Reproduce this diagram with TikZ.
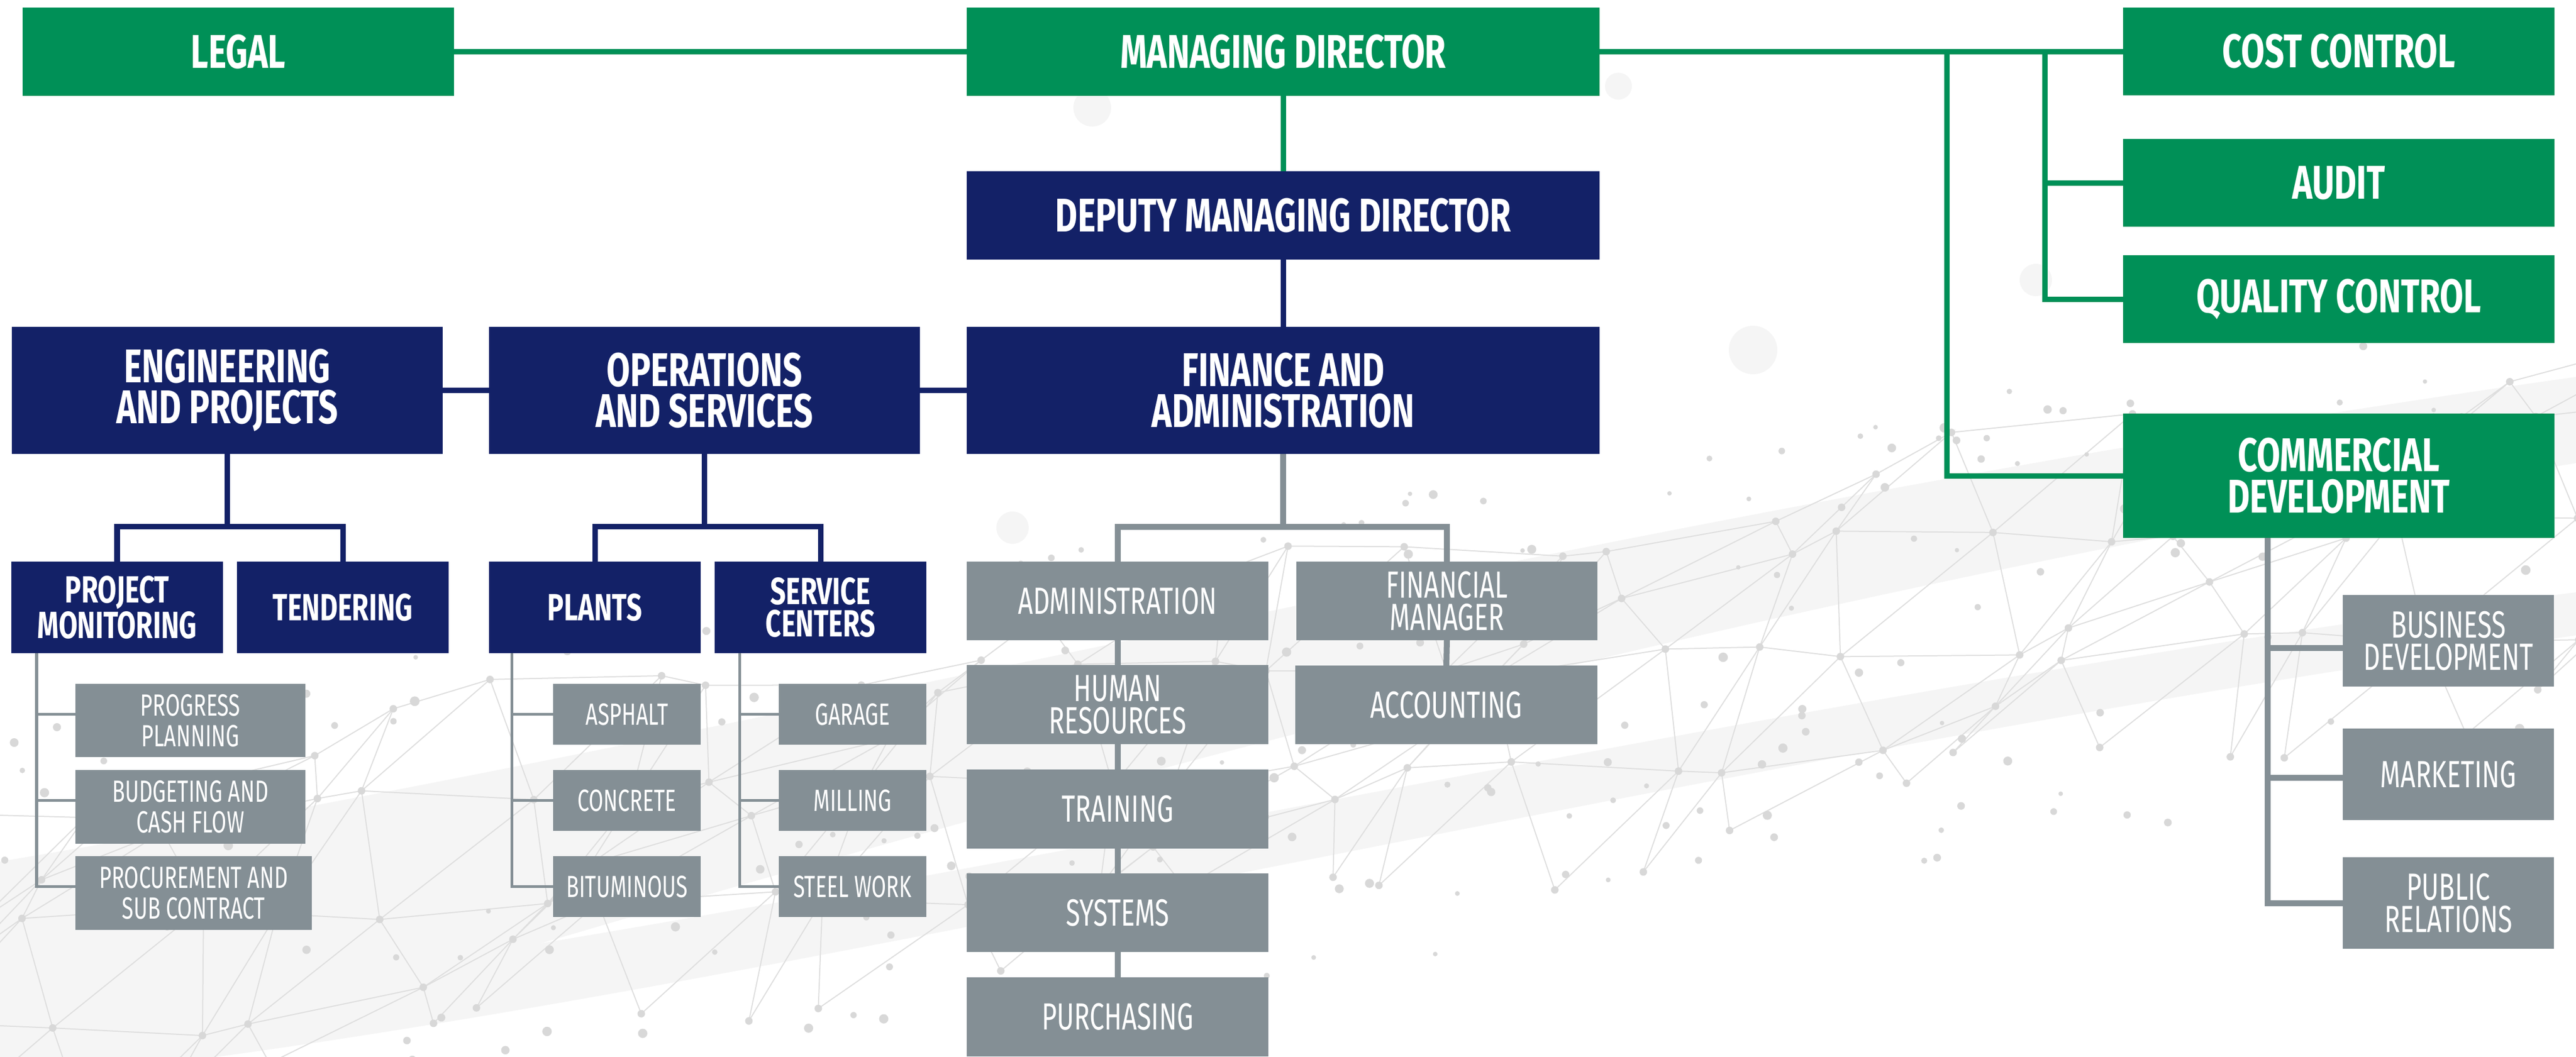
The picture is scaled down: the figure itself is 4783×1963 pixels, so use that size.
\documentclass[tikz,border=0pt]{standalone}
\usepackage{fontspec}
\setmainfont{Fira Sans}[FakeStretch=0.72]
\newfontfamily\grayfam{Fira Sans}[FakeStretch=0.69]
\definecolor{cgreen}{HTML}{009057}
\definecolor{cnavy}{HTML}{132167}
\definecolor{cgray}{HTML}{848F95}
\definecolor{meshc}{HTML}{DEDEDE}
\definecolor{dotc}{HTML}{D8D8D8}
\definecolor{bandc}{HTML}{F5F5F5}
\newcommand{\fbig}{\bfseries\fontsize{25pt}{21.7pt}\selectfont}
\newcommand{\fnavysm}{\bfseries\fontsize{20pt}{17pt}\selectfont}
\newcommand{\fgraymid}{\grayfam\fontsize{20pt}{17pt}\selectfont}
\newcommand{\fgraysm}{\grayfam\fontsize{16.2pt}{16.2pt}\selectfont}
\newcommand{\bx}[7]{\node[#2, minimum width={(#5-#3)*0.01cm}, minimum height={(#6-#4)*0.01cm}] (#1) at ({(#3+#5)/2},{(#4+#6)/2}) {#7};}
\begin{document}
\begin{tikzpicture}[x=0.01cm,y=-0.01cm,
  box/.style={rectangle, inner sep=0pt, outer sep=0pt, align=center, text=white},
  gbox/.style={box, fill=cgreen, font=\fbig},
  nbox/.style={box, fill=cnavy, font=\fbig},
  nsbox/.style={box, fill=cnavy, font=\fnavysm},
  grbox/.style={box, fill=cgray, font=\fgraymid},
  grsbox/.style={box, fill=cgray, font=\fgraysm},
  gline/.style={draw=cgreen, line width=0.1cm},
  nline/.style={draw=cnavy, line width=0.1cm},
  grthick/.style={draw=cgray, line width=0.11cm},
  grthin/.style={draw=cgray, line width=0.05cm},
  meshline/.style={draw=meshc, line width=0.02cm},
  declare function={bandy(\x)=1800-0.17*\x;
    px(\a,\b)=\a*210-100+70*sin(\a*137+\b*71);
    py(\a,\b)=bandy(\a*210)+(\b-2)*150+60*sin(\a*53+\b*97+11);}
]
\useasboundingbox (0,0) rectangle (4783,1963);
\fill[white] (0,0) rectangle (4783,1963);
% ---------- decorative background ----------
\begin{scope}
\clip (0,0) rectangle (4783,1963);
\fill[bandc] (0,1963) -- (0,1600) .. controls (1500,1350) and (3000,950) .. (4783,700) -- (4783,860) .. controls (3000,1150) and (1500,1600) .. (300,1963) -- cycle;
\fill[bandc] (0,1900) .. controls (1600,1700) and (3200,1300) .. (4783,1100) -- (4783,1180) .. controls (3200,1400) and (1600,1800) .. (400,1963) -- (0,1963) -- cycle;
\foreach \i in {0,...,23}{\foreach \j in {0,...,3}{
  \draw[meshline] ({px(\i,\j)},{py(\i,\j)}) -- ({px(\i+1,\j)},{py(\i+1,\j)}) -- ({px(\i,\j+1)},{py(\i,\j+1)}) -- cycle;
}}
\foreach \i in {0,...,24}{\foreach \j in {0,...,4}{
  \fill[dotc] ({px(\i,\j)},{py(\i,\j)}) circle (7);
}}
\pgfmathsetseed{3}
\foreach \k in {1,...,240}{
  \pgfmathsetmacro\rx{rnd*4783}
  \pgfmathsetmacro\ry{bandy(\rx)+(rnd-0.5)*900}
  \pgfmathsetmacro\rr{4+5*rnd}
  \fill[dotc] (\rx,\ry) circle (\rr);
}
\fill[bandc] (2028,200) circle (35);
\fill[bandc] (3005,160) circle (25);
\fill[bandc] (3255,650) circle (45);
\fill[bandc] (3780,520) circle (30);
\fill[bandc] (1880,980) circle (30);
\end{scope}
% ---------- top level (green) ----------
\bx{legal}{gbox}{42}{14}{843}{178}{LEGAL}
\bx{md}{gbox}{1795}{14}{2970}{178}{MANAGING DIRECTOR}
\bx{cost}{gbox}{3942}{14}{4743}{177}{COST CONTROL}
\bx{audit}{gbox}{3942}{258}{4743}{421}{AUDIT}
\bx{qc}{gbox}{3942}{474}{4743}{637}{QUALITY CONTROL}
\bx{comm}{gbox}{3942}{768}{4743}{999}{COMMERCIAL\\DEVELOPMENT}
% ---------- navy ----------
\bx{dmd}{nbox}{1795}{318}{2970}{482}{DEPUTY MANAGING DIRECTOR}
\bx{eng}{nbox}{22}{607}{822}{843}{ENGINEERING\\AND PROJECTS}
\bx{ops}{nbox}{908}{607}{1708}{843}{OPERATIONS\\AND SERVICES}
\bx{fin}{nbox}{1795}{607}{2970}{843}{FINANCE AND\\ADMINISTRATION}
\bx{pm}{nsbox}{21}{1043}{414}{1213}{PROJECT\\MONITORING}
\bx{tend}{nsbox}{440}{1043}{833}{1213}{TENDERING}
\bx{plants}{nsbox}{908}{1043}{1301}{1213}{PLANTS}
\bx{sc}{nsbox}{1327}{1043}{1720}{1213}{SERVICE\\CENTERS}
% ---------- gray ----------
\bx{prog}{grsbox}{140}{1270}{567}{1406}{PROGRESS\\PLANNING}
\bx{budg}{grsbox}{140}{1430}{567}{1567}{BUDGETING AND\\CASH FLOW}
\bx{proc}{grsbox}{140}{1590}{579}{1727}{PROCUREMENT AND\\SUB CONTRACT}
\bx{asph}{grsbox}{1027}{1270}{1301}{1383}{ASPHALT}
\bx{conc}{grsbox}{1027}{1430}{1301}{1543}{CONCRETE}
\bx{bitu}{grsbox}{1027}{1590}{1301}{1703}{BITUMINOUS}
\bx{gara}{grsbox}{1446}{1270}{1720}{1383}{GARAGE}
\bx{mill}{grsbox}{1446}{1430}{1720}{1543}{MILLING}
\bx{steel}{grsbox}{1446}{1590}{1720}{1703}{STEEL WORK}
\bx{admin}{grbox}{1795}{1043}{2355}{1189}{ADMINISTRATION}
\bx{hr}{grbox}{1795}{1235}{2355}{1382}{HUMAN\\RESOURCES}
\bx{train}{grbox}{1795}{1429}{2355}{1576}{TRAINING}
\bx{sys}{grbox}{1795}{1622}{2355}{1768}{SYSTEMS}
\bx{purch}{grbox}{1795}{1815}{2355}{1962}{PURCHASING}
\bx{fm}{grbox}{2407}{1043}{2966}{1189}{FINANCIAL\\MANAGER}
\bx{acct}{grbox}{2405}{1236}{2966}{1382}{ACCOUNTING}
\bx{biz}{grbox}{4350}{1105}{4742}{1275}{BUSINESS\\DEVELOPMENT}
\bx{mkt}{grbox}{4350}{1353}{4742}{1523}{MARKETING}
\bx{pr}{grbox}{4350}{1592}{4742}{1762}{PUBLIC\\RELATIONS}
% ---------- helper coordinates ----------
\coordinate (busY) at (0,978);
\coordinate (tapA) at (3615,0);
\coordinate (tapB) at (3797,0);
\coordinate (tapC) at (4210,0);
\coordinate (tapPM) at (68,0);
\coordinate (tapPL) at (950,0);
\coordinate (tapSC) at (1373,0);
\coordinate (bizY) at (0,1203);
\coordinate (mktY) at (0,1444);
% ---------- green connectors ----------
\draw[gline] (legal.east) -- (md.west);
\draw[gline] (md.south) -- (dmd.north);
\draw[gline] (md.east) -- (cost.west |- md.east);
\draw[gline] (tapA |- md.east) -- (tapA |- comm.west) -- (comm.west);
\draw[gline] (tapB |- md.east) -- (tapB |- qc.west) -- (qc.west);
\draw[gline] (tapB |- audit.west) -- (audit.west);
% ---------- navy connectors ----------
\draw[nline] (dmd.south) -- (fin.north);
\draw[nline] (eng.east) -- (ops.west);
\draw[nline] (ops.east) -- (fin.west);
\draw[nline] (eng.south) -- (eng.south |- busY);
\draw[nline] (pm.north) -- (pm.north |- busY) -- (tend.north |- busY) -- (tend.north);
\draw[nline] (ops.south) -- (ops.south |- busY);
\draw[nline] (plants.north) -- (plants.north |- busY) -- (sc.north |- busY) -- (sc.north);
% ---------- gray connectors ----------
\draw[grthick] (fin.south) -- (fin.south |- busY);
\draw[grthick] (admin.north) -- (admin.north |- busY) -- (fm.north |- busY) -- (fm.north);
\draw[grthick] (admin.south) -- (hr.north);
\draw[grthick] (hr.south) -- (train.north);
\draw[grthick] (train.south) -- (sys.north);
\draw[grthick] (sys.south) -- (purch.north);
\draw[grthick] (fm.south) -- (acct.north);
\draw[grthick] (tapC |- comm.south) -- (tapC |- pr.west) -- (pr.west);
\draw[grthick] (tapC |- bizY) -- (biz.west |- bizY);
\draw[grthick] (tapC |- mktY) -- (mkt.west |- mktY);
\draw[grthin] (tapPM |- pm.south) -- (tapPM |- bitu.west) -- (proc.west |- bitu.west);
\draw[grthin] (tapPM |- asph.west) -- (prog.west |- asph.west);
\draw[grthin] (tapPM |- conc.west) -- (budg.west |- conc.west);
\draw[grthin] (tapPL |- plants.south) -- (tapPL |- bitu.west) -- (bitu.west);
\draw[grthin] (tapPL |- asph.west) -- (asph.west);
\draw[grthin] (tapPL |- conc.west) -- (conc.west);
\draw[grthin] (tapSC |- sc.south) -- (tapSC |- steel.west) -- (steel.west);
\draw[grthin] (tapSC |- gara.west) -- (gara.west);
\draw[grthin] (tapSC |- mill.west) -- (mill.west);
\end{tikzpicture}
\end{document}
